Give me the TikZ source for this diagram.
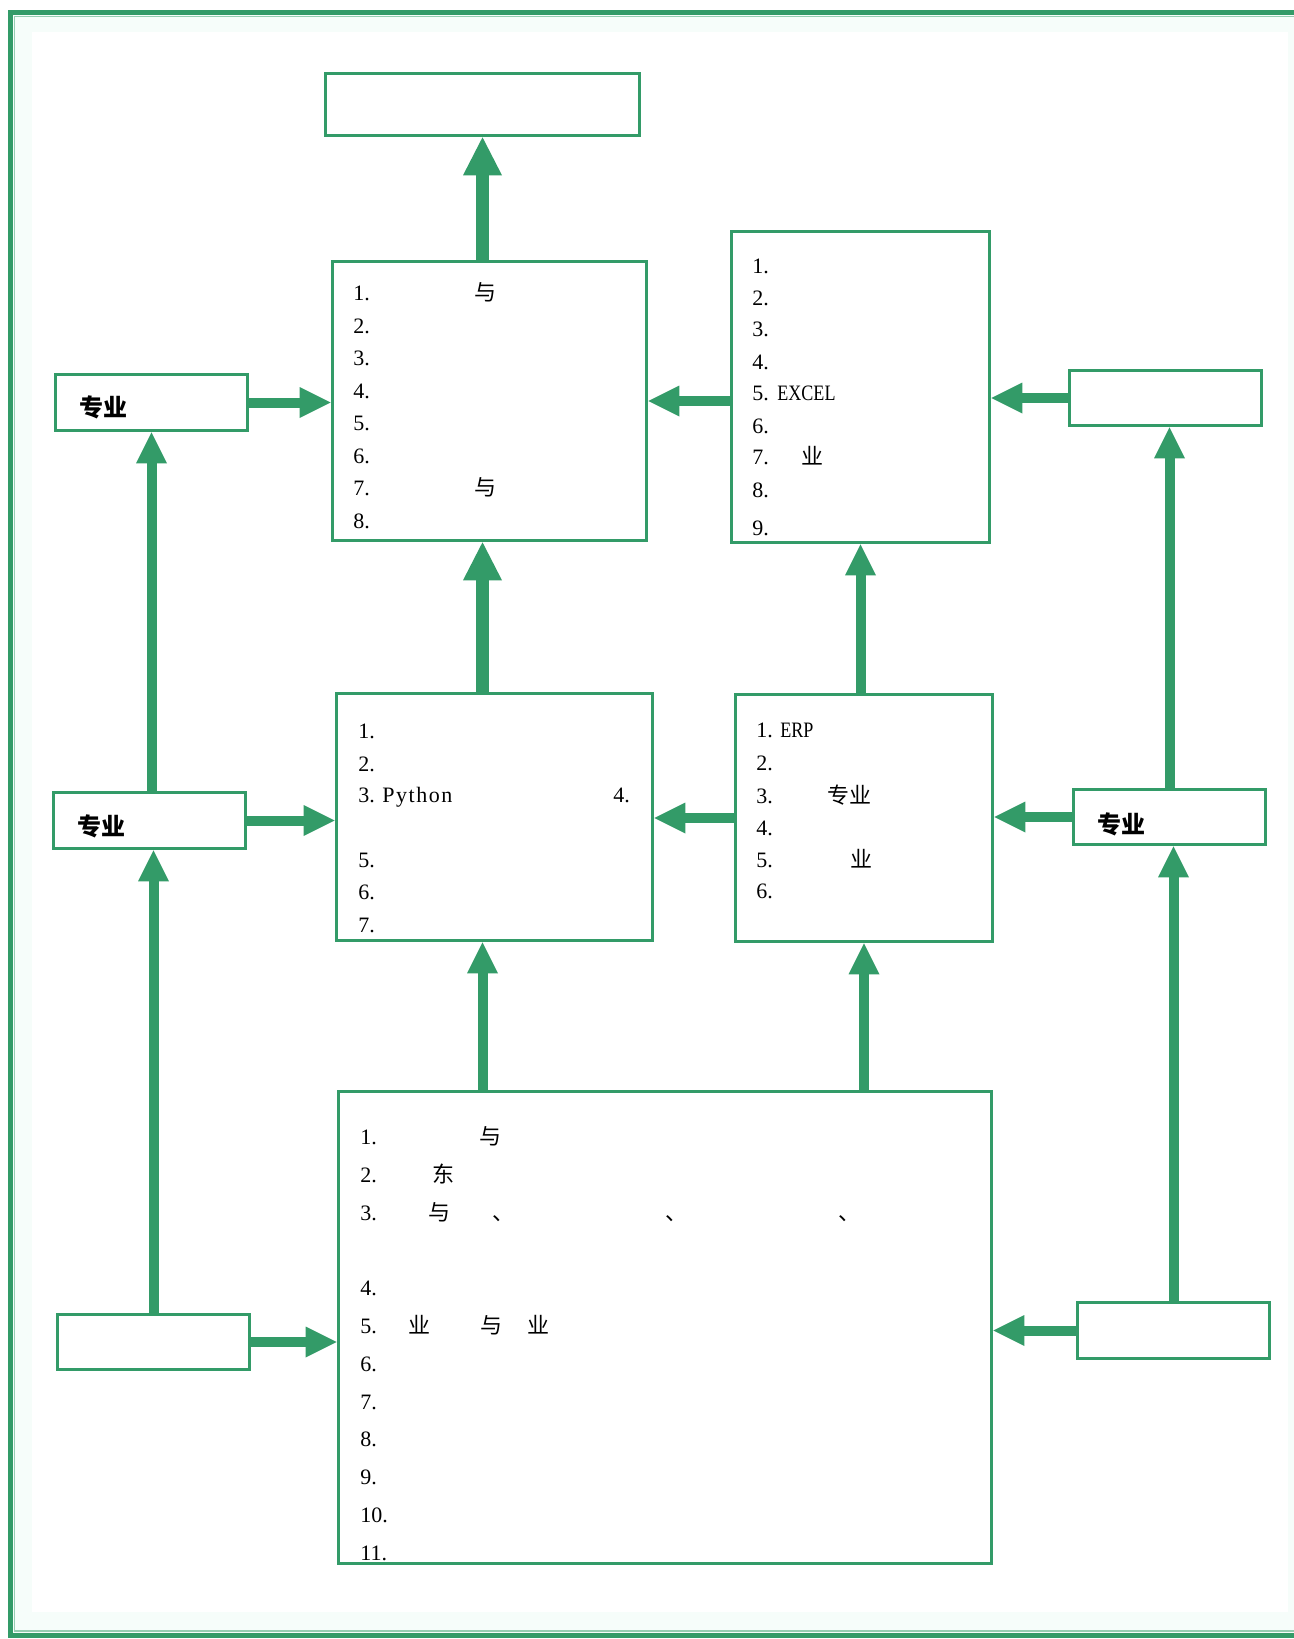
\documentclass[tikz,border=0pt]{standalone}
\usepackage{fontspec}
\setmainfont{Liberation Serif}
\newfontfamily\cjk{Noto Sans CJK SC}
\newfontfamily\narrowf[FakeStretch=0.82]{Liberation Serif}
\newfontfamily\spacedf[LetterSpace=7]{Liberation Serif}
\usetikzlibrary{arrows.meta}
\definecolor{grn}{RGB}{51,155,104}
\definecolor{grnlt}{RGB}{150,205,178}
\definecolor{glow}{RGB}{246,253,250}
\tikzset{
  box/.style={draw=grn, line width=1.8pt, rectangle, inner sep=0pt, fill=white},
  sarr/.style={draw=grn, line width=5pt, -{Triangle[width=15.5pt,length=15.5pt,line width=0pt]}},
  barr/.style={draw=grn, line width=6.25pt, -{Triangle[width=19.5pt,length=19pt,line width=0pt]}},
  ltx/.style={anchor=base west, inner sep=0pt, font=\fontsize{11}{13}\selectfont},
  cjt/.style={anchor=base, inner sep=0pt, font=\cjk\fontsize{11}{13}\selectfont},
  lbl/.style={anchor=center, inner sep=0pt, font=\cjk\bfseries\fontsize{12}{14}\selectfont},
}
\begin{document}
\begin{tikzpicture}[x=0.5pt,y=-0.5pt]
\useasboundingbox (0,0) rectangle (1294,1639);
% background and frame
\fill[white] (0,0) rectangle (1294,1639);
\fill[glow] (10,12) rectangle (1294,1635);
\fill[white] (32,32) rectangle (1288,1612);
\draw[grn, line width=2.5pt] (1294,12.5) -- (10,12.5) -- (10,1635) -- (1294,1635);
\draw[grnlt, line width=0.8pt] (1294,16.5) -- (14.5,16.5) -- (14.5,1631) -- (1294,1631);

% boxes
\node[box, minimum width=157pt, minimum height=31pt] (top) at (482.5,104.5) {};
\node[box, minimum width=157pt, minimum height=139.5pt] (A) at (489.5,401) {};
\node[box, minimum width=129pt, minimum height=155.5pt] (B) at (860.5,387) {};
\node[box, minimum width=96pt, minimum height=28pt] (LT) at (151.5,402.5) {};
\node[box, minimum width=96pt, minimum height=27.5pt] (RT) at (1165.5,398) {};
\node[box, minimum width=158pt, minimum height=123.5pt] (C) at (494.5,817) {};
\node[box, minimum width=128.5pt, minimum height=123.5pt] (D) at (864,818) {};
\node[box, minimum width=96pt, minimum height=28pt] (LM) at (149.5,820.5) {};
\node[box, minimum width=96pt, minimum height=27.5pt] (RM) at (1169.5,817) {};
\node[box, minimum width=326.5pt, minimum height=236pt] (E) at (665,1327.5) {};
\node[box, minimum width=96pt, minimum height=27.5pt] (LB) at (153.5,1342) {};
\node[box, minimum width=96pt, minimum height=28pt] (RB) at (1173.5,1330.5) {};

% small box labels
\node[lbl] (LTt) at (103,407) {专业};
\node[lbl] (LMt) at (101,826) {专业};
\node[lbl] (RMt) at (1121.5,824) {专业};

% box A text
\foreach \i in {1,...,8} \node[ltx] (a\i) at (353,{300.5+32.5*(\i-1)}) {\i.};
\node[cjt] (a1c) at (485,300.5) {与};
\node[cjt] (a7c) at (485,495.5) {与};

% box B text
\foreach \i/\y in {1/273,2/305,3/336,4/369,5/400,6/433,7/464,8/497,9/535}
  \node[ltx] (b\i) at (752,\y) {\i.};
\node[ltx] (b5w) at (777,400) {\narrowf EXCEL};
\node[cjt] (b7c) at (812,464) {业};

% box C text
\foreach \i/\y in {1/738,2/771,3/802,5/867,6/899,7/932}
  \node[ltx] (c\i) at (358,\y) {\i.};
\node[ltx] (c3w) at (382,802) {\spacedf Python};
\node[ltx] (c4) at (613,802) {4.};

% box D text
\foreach \i/\y in {1/737,2/770,3/803,4/835,5/867,6/898}
  \node[ltx] (d\i) at (756,\y) {\i.};
\node[ltx] (d1w) at (780,737) {\narrowf ERP};
\node[cjt] (d3c) at (849.5,803) {专业};
\node[cjt] (d5c) at (861,867) {业};

% box E text
\foreach \i/\y in {1/1144,2/1182,3/1220,4/1295,5/1333,6/1371,7/1409,8/1446,9/1484,10/1522,11/1560}
  \node[ltx] (e\i) at (360,\y) {\i.};
\node[cjt] (e1c) at (490,1144) {与};
\node[cjt] (e2c) at (443,1182) {东};
\node[cjt] (e3a) at (439,1220) {与};
\node[cjt] (e3b) at (503,1220) {、};
\node[cjt] (e3c) at (676,1220) {、};
\node[cjt] (e3d) at (849,1220) {、};
\node[cjt] (e5a) at (419,1333) {业};
\node[cjt] (e5b) at (491,1333) {与};
\node[cjt] (e5c) at (538,1333) {业};

% vertical arrows between the boxes
\draw[barr] (top.south |- A.north) -- (top.south);
\draw[barr] (top.south |- C.north) -- (top.south |- A.south);
\draw[sarr] (D.north -| B.south) -- (B.south);
\draw[sarr] (top.south |- E.north) -- (top.south |- C.south);
\draw[sarr] (D.south |- E.north) -- (D.south);

% horizontal arrows
\draw[sarr] (LT.east) -- (LT.east -| A.west);
\draw[sarr] (A.east -| B.west) -- (A.east);
\draw[sarr] (RT.west) -- (RT.west -| B.east);
\draw[sarr] (LM.east) -- (LM.east -| C.west);
\draw[sarr] (D.west) -- (D.west -| C.east);
\draw[sarr] (RM.west) -- (RM.west -| D.east);
\draw[sarr] (LB.east) -- (LB.east -| E.west);
\draw[sarr] (RB.west) -- (RB.west -| E.east);

% side vertical arrows
\draw[sarr] (LT.south |- LM.north) -- (LT.south);
\draw[sarr] (LB.north) -- (LB.north |- LM.south);
\draw[sarr] (RM.north) -- (RM.north |- RT.south);
\draw[sarr] (RB.north) -- (RB.north |- RM.south);
\end{tikzpicture}
\end{document}
